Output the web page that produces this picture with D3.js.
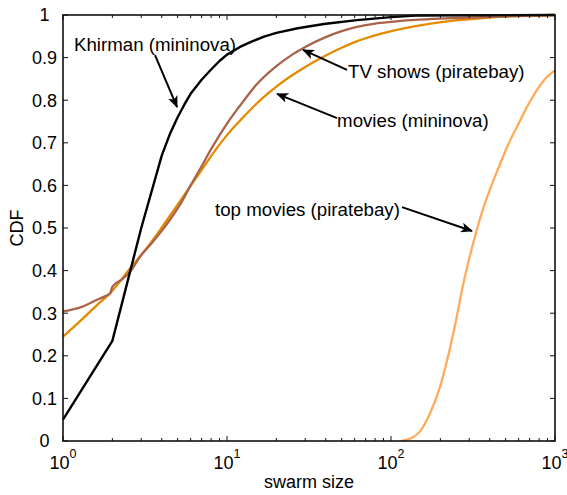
<!DOCTYPE html>
<html>
<head>
<meta charset="utf-8">
<script src="https://cdnjs.cloudflare.com/ajax/libs/d3/7.8.5/d3.min.js"></script>
<style>
  body { margin: 0; background: #fff; }
  svg { display: block; font-family: "Liberation Sans", Arial, sans-serif; }
  .tick-label { font-size: 18px; fill: #000; }
  .note { font-size: 18.7px; fill: #000; }
</style>
</head>
<body>
<div id="chart"></div>
<script>
// CDF of swarm sizes
let khirmanX = [1, 2, 3, 4, 4.5, 5, 5.5, 6, 7, 8, 9, 10, 12, 14, 17, 20, 27, 39, 62, 100, 150, 1000];
let khirmanY = [0.05, 0.235, 0.50, 0.67, 0.722, 0.76, 0.79, 0.815, 0.848, 0.872, 0.892, 0.907, 0.925, 0.937, 0.95, 0.958, 0.969, 0.979, 0.988, 0.995, 0.999, 1];

let tvX = [1, 1.3, 1.6, 1.8, 1.94, 2.0, 2.3, 2.6, 2.95, 3.4, 3.9, 4.5, 5.3, 6, 7, 8, 10, 12, 15, 20, 25, 30, 40, 50, 62, 80, 100, 150, 250, 500, 1000];
let tvY = [0.304, 0.315, 0.331, 0.34, 0.347, 0.362, 0.38, 0.40, 0.433, 0.46, 0.488, 0.52, 0.562, 0.60, 0.645, 0.685, 0.745, 0.787, 0.835, 0.88, 0.907, 0.925, 0.948, 0.962, 0.972, 0.98, 0.984, 0.989, 0.993, 0.997, 1];

let moviesX = [1, 1.3, 1.6, 1.94, 2.56, 3.2, 3.9, 4.8, 5.95, 7, 8.65, 10, 12, 16.6, 20, 24.2, 30, 38.7, 50, 61.7, 85, 147, 220, 400, 1000];
let moviesY = [0.245, 0.285, 0.318, 0.347, 0.405, 0.45, 0.495, 0.545, 0.597, 0.636, 0.687, 0.718, 0.752, 0.806, 0.832, 0.855, 0.878, 0.902, 0.923, 0.938, 0.955, 0.975, 0.985, 0.994, 1];

let topX = [116, 135, 150, 173, 199, 220, 245, 280, 320, 365, 410, 460, 510, 600, 670, 770, 870, 1000];
let topY = [0, 0.008, 0.022, 0.065, 0.127, 0.19, 0.27, 0.38, 0.47, 0.546, 0.60, 0.648, 0.69, 0.745, 0.782, 0.822, 0.85, 0.87];

let xTicks = [1, 10, 100, 1000];
let yTicks = [0, 0.1, 0.2, 0.3, 0.4, 0.5, 0.6, 0.7, 0.8, 0.9, 1];
let yTickLabels = ['0', '0.1', '0.2', '0.3', '0.4', '0.5', '0.6', '0.7', '0.8', '0.9', '1'];

let series = [
  { name: 'top movies (piratebay)', x: topX, y: topY, color: '#ffab5b', smooth: true },
  { name: 'movies (mininova)', x: moviesX, y: moviesY, color: '#e48a00', smooth: true },
  { name: 'TV shows (piratebay)', x: tvX, y: tvY, color: '#a8634a', smooth: true },
  { name: 'Khirman (mininova)', x: khirmanX, y: khirmanY, color: '#000', smooth: false }
];

// text callouts: label anchor, arrow tail and arrow tip given in data units
let notes = [
  { text: 'Khirman (mininova)', at: [1.167, 0.915], tail: [3.64, 0.906], tip: [4.96, 0.784] },
  { text: 'TV shows (piratebay)', at: [54.7, 0.852], tail: [53.9, 0.871], tip: [29.1, 0.918] },
  { text: 'movies (mininova)', at: [46.9, 0.737], tail: [46.9, 0.758], tip: [20.2, 0.815] },
  { text: 'top movies (piratebay)', at: [8.45, 0.528], tail: [116.7, 0.549], tip: [311.8, 0.493] }
];

let W = 567, H = 495;
let margin = { top: 15, right: 12, bottom: 54, left: 63 };
let width = W - margin.left - margin.right;
let height = H - margin.top - margin.bottom;

let svg = d3.select('#chart').append('svg')
    .attr('width', W)
    .attr('height', H);

let defs = svg.append('defs');
defs.append('marker')
    .attr('id', 'head')
    .attr('viewBox', '0 0 12 10')
    .attr('refX', 11)
    .attr('refY', 5)
    .attr('markerWidth', 12)
    .attr('markerHeight', 10)
    .attr('markerUnits', 'userSpaceOnUse')
    .attr('orient', 'auto')
  .append('path')
    .attr('d', 'M0,0 L12,5 L0,10 L3,5 Z')
    .attr('fill', '#000');

let g = svg.append('g')
    .attr('transform', 'translate(' + margin.left + ',' + margin.top + ')');

let xScale = d3.scaleLog().domain([1, 1000]).range([0, width]);
let yScale = d3.scaleLinear().domain([0, 1]).range([height, 0]);

// minor ticks for the log axis
let minor = [];
[1, 10, 100].forEach(function(d) {
  for (let k = 2; k <= 9; k++) minor.push(d * k);
});

// curves
series.forEach(function(s) {
  let pts = s.x.map(function(v, i) { return [v, s.y[i]]; });
  let line = d3.line()
      .x(function(d) { return xScale(d[0]); })
      .y(function(d) { return yScale(d[1]); })
      .curve(s.smooth ? d3.curveMonotoneX : d3.curveLinear);
  g.append('path')
      .datum(pts)
      .attr('fill', 'none')
      .attr('stroke', s.color)
      .attr('stroke-width', s.smooth ? 2.3 : 2.4)
      .attr('stroke-linejoin', 'round')
      .attr('d', line);
});

// box + inward ticks on all sides
let axisColor = '#111';
g.append('rect')
    .attr('width', width)
    .attr('height', height)
    .attr('fill', 'none')
    .attr('stroke', axisColor)
    .attr('stroke-width', 1.6);

let ticks = g.append('g').attr('stroke', axisColor).attr('stroke-width', 1);
xTicks.forEach(function(d) {
  let x = xScale(d);
  ticks.append('line').attr('x1', x).attr('x2', x).attr('y1', height).attr('y2', height - 5);
  ticks.append('line').attr('x1', x).attr('x2', x).attr('y1', 0).attr('y2', 5);
});
minor.forEach(function(d) {
  let x = xScale(d);
  ticks.append('line').attr('x1', x).attr('x2', x).attr('y1', height).attr('y2', height - 3);
  ticks.append('line').attr('x1', x).attr('x2', x).attr('y1', 0).attr('y2', 3);
});
yTicks.forEach(function(d) {
  let y = yScale(d);
  ticks.append('line').attr('x1', 0).attr('x2', 5).attr('y1', y).attr('y2', y);
  ticks.append('line').attr('x1', width).attr('x2', width - 5).attr('y1', y).attr('y2', y);
});

// tick labels
yTicks.forEach(function(d, i) {
  g.append('text')
      .attr('class', 'tick-label')
      .attr('x', -18.5)
      .attr('y', yScale(d))
      .attr('dy', '0.36em')
      .style('text-anchor', 'middle')
      .text(yTickLabels[i]);
});
xTicks.forEach(function(d) {
  let t = g.append('text')
      .attr('class', 'tick-label')
      .attr('x', xScale(d))
      .attr('y', height + 28)
      .style('text-anchor', 'middle');
  t.append('tspan').text('10');
  t.append('tspan')
      .attr('dy', -11)
      .style('font-size', '12.5px')
      .text(Math.round(Math.log10(d)));
});

// axis titles
svg.append('text')
    .attr('class', 'tick-label')
    .attr('x', margin.left + width / 2)
    .attr('y', H - 7)
    .style('text-anchor', 'middle')
    .text('swarm size');
svg.append('text')
    .attr('class', 'tick-label')
    .attr('transform', 'translate(23,' + (margin.top + height / 2) + ') rotate(-90)')
    .style('text-anchor', 'middle')
    .text('CDF');

// callouts
notes.forEach(function(n) {
  g.append('line')
      .attr('x1', xScale(n.tail[0]))
      .attr('y1', yScale(n.tail[1]))
      .attr('x2', xScale(n.tip[0]))
      .attr('y2', yScale(n.tip[1]))
      .attr('stroke', '#000')
      .attr('stroke-width', 2)
      .attr('marker-end', 'url(#head)');
  g.append('text')
      .attr('class', 'note')
      .attr('x', xScale(n.at[0]))
      .attr('y', yScale(n.at[1]))
      .text(n.text);
});
</script>
</body>
</html>
